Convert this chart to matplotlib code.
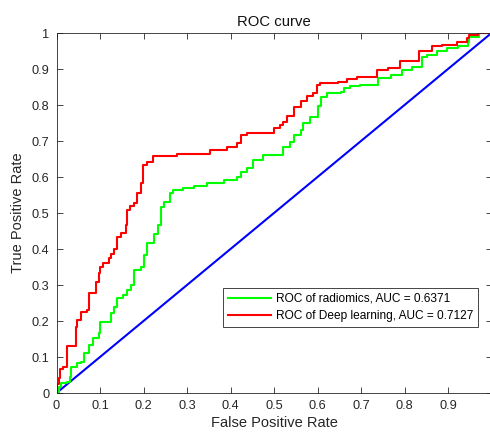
import matplotlib
matplotlib.use("Agg")
import matplotlib.pyplot as plt
import numpy as np

plt.rcParams["font.family"] = ["Liberation Sans", "DejaVu Sans"]

# ROC of radiomics (green), corner points
fpr_rad = [0, 0.005, 0.011, 0.023, 0.030, 0.034, 0.046, 0.057, 0.064, 0.074,
           0.085, 0.097, 0.101, 0.126, 0.133, 0.138, 0.154, 0.161, 0.172, 0.179,
           0.195, 0.200, 0.207, 0.223, 0.225, 0.234, 0.241, 0.248, 0.260, 0.267,
           0.290, 0.317, 0.345, 0.386, 0.414, 0.425, 0.439, 0.451, 0.474, 0.520,
           0.536, 0.547, 0.563, 0.566, 0.582, 0.600, 0.609, 0.621, 0.655, 0.662,
           0.674, 0.697, 0.738, 0.770, 0.795, 0.818, 0.841, 0.851, 0.874, 0.897,
           0.922, 0.945, 0.949, 0.972, 1.0]
tpr_rad = [0, 0.017, 0.028, 0.031, 0.044, 0.072, 0.083, 0.086, 0.111, 0.133,
           0.153, 0.167, 0.197, 0.222, 0.239, 0.264, 0.272, 0.286, 0.300, 0.342,
           0.350, 0.383, 0.417, 0.419, 0.442, 0.467, 0.517, 0.531, 0.556, 0.564,
           0.569, 0.575, 0.582, 0.592, 0.600, 0.614, 0.625, 0.647, 0.661, 0.683,
           0.697, 0.718, 0.731, 0.750, 0.767, 0.797, 0.822, 0.833, 0.836, 0.847,
           0.853, 0.856, 0.874, 0.883, 0.897, 0.906, 0.933, 0.940, 0.949, 0.958,
           0.963, 0.975, 0.990, 1.0, 1.0]

# ROC of deep learning (red)
fpr_dl = [0, 0, 0.005, 0.009, 0.016, 0.025, 0.044, 0.048, 0.057, 0.069,
          0.074, 0.090, 0.097, 0.101, 0.108, 0.120, 0.126, 0.133, 0.140, 0.149,
          0.159, 0.161, 0.168, 0.179, 0.184, 0.195, 0.198, 0.207, 0.221, 0.276,
          0.352, 0.393, 0.414, 0.425, 0.439, 0.501, 0.513, 0.520, 0.529, 0.547,
          0.563, 0.575, 0.589, 0.598, 0.605, 0.646, 0.667, 0.690, 0.736, 0.761,
          0.789, 0.834, 0.864, 0.887, 0.920, 0.943, 0.949, 0.968, 1.0]
tpr_dl = [0, 0.025, 0.042, 0.067, 0.072, 0.131, 0.183, 0.203, 0.225, 0.231,
          0.278, 0.308, 0.333, 0.350, 0.361, 0.375, 0.386, 0.400, 0.433, 0.444,
          0.467, 0.508, 0.519, 0.528, 0.556, 0.583, 0.633, 0.642, 0.658, 0.664,
          0.675, 0.683, 0.694, 0.717, 0.722, 0.736, 0.744, 0.753, 0.769, 0.794,
          0.811, 0.825, 0.833, 0.856, 0.861, 0.864, 0.872, 0.878, 0.897, 0.903,
          0.921, 0.949, 0.964, 0.968, 0.975, 0.986, 0.994, 1.0, 1.0]

auc_rad = 0.6371
auc_dl = 0.7127

fig = plt.figure(figsize=(4.9, 4.36), dpi=100)
ax = fig.add_axes([56.5 / 490, 43 / 436, 435 / 490, 360 / 436])

ax.plot([0, 1], [0, 1], color=(0, 0, 1), lw=1.5)
ax.plot(fpr_rad, tpr_rad, color=(0, 1, 0), lw=1.5, drawstyle="steps-post",
        label=f"ROC of radiomics, AUC = {auc_rad}")
ax.plot(fpr_dl, tpr_dl, color=(1, 0, 0), lw=1.5, drawstyle="steps-post",
        label=f"ROC of Deep learning, AUC = {auc_dl}")

ax.set_xlim(0, 1)
ax.set_ylim(0, 1)
ticks = np.round(np.arange(0, 1.01, 0.1), 1)
labels = ["0" if t == 0 else ("1" if t == 1 else f"{t:g}") for t in ticks]
ax.set_xticks(ticks)
# the "1" on the x axis falls off the right edge of the picture
ax.set_xticklabels(labels[:-1] + [""])
ax.set_yticks(ticks)
ax.set_yticklabels(labels)
ax.tick_params(direction="in", length=4, width=0.6, top=True, right=True,
               labelsize=9.2, colors="#262626", pad=5)
for s in ax.spines.values():
    s.set_linewidth(0.6)
    s.set_color("#262626")

ax.set_xlabel("False Positive Rate", fontsize=10.5, color="#262626", labelpad=3)
ax.set_ylabel("True Positive Rate", fontsize=10.5, color="#262626", labelpad=5)
ax.set_title("ROC curve", fontsize=10.7, color="#111111", pad=5)

leg = ax.legend(loc="lower right", bbox_to_anchor=(0.970, 0.183),
                borderaxespad=0, fontsize=8.6, handlelength=3.6,
                fancybox=False, framealpha=1, edgecolor="#262626",
                borderpad=0.45, labelspacing=0.4, handletextpad=0.4)
leg.get_frame().set_linewidth(0.6)

fig.savefig("out.png", dpi=100)
